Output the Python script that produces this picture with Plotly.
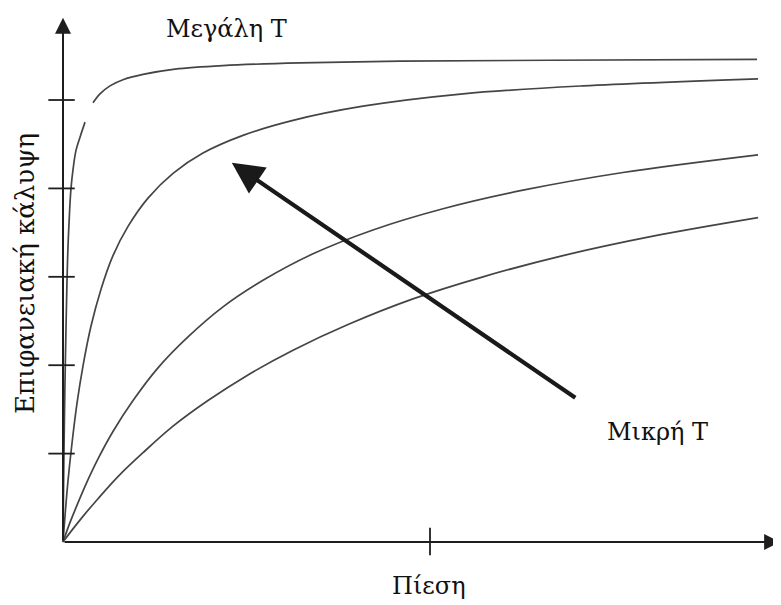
import plotly.graph_objects as go

# ---- data (pressure in arbitrary units, coverage in tick units) ----
curve1_p = [0, 0.07, 0.14, 0.27, 0.41, 0.54, 0.68, 0.89, 1.09, 1.36, 1.77, 2.32, 3.00, None,
            4.09, 5.04, 6.40, 8.17, 10.90, 15.26, 21.80, 32.29, 45.91, 66.35, 94.55]
curve1_t = [0, 0.57, 1.07, 1.81, 2.43, 2.94, 3.34, 3.73, 4.00, 4.21, 4.43, 4.58, 4.75, None,
            4.97, 5.07, 5.16, 5.23, 5.29, 5.35, 5.39, 5.42, 5.44, 5.45, 5.46]

curve2_p = [0, 0.27, 0.68, 1.23, 1.91, 2.72, 3.81, 5.18, 6.81, 8.86, 11.58, 14.99, 19.07,
            24.52, 31.34, 40.87, 54.50, 70.84, 94.69]
curve2_t = [0, 0.29, 0.69, 1.12, 1.57, 1.99, 2.44, 2.86, 3.24, 3.57, 3.89, 4.17, 4.40,
            4.60, 4.77, 4.93, 5.07, 5.16, 5.24]

curve3_p = [0, 0.68, 1.63, 3.00, 4.77, 6.81, 9.54, 12.94, 17.03, 21.80, 27.25, 34.06,
            42.23, 51.77, 62.67, 76.29, 94.69]
curve3_t = [0, 0.16, 0.36, 0.63, 0.94, 1.25, 1.60, 1.97, 2.32, 2.66, 2.96, 3.26,
            3.53, 3.77, 3.98, 4.18, 4.38]

curve4_p = [0, 1.09, 2.72, 4.77, 7.49, 10.90, 14.99, 19.75, 25.20, 31.34, 38.83, 47.68,
            57.22, 68.12, 80.38, 94.69]
curve4_t = [0, 0.12, 0.29, 0.49, 0.74, 1.01, 1.31, 1.60, 1.89, 2.17, 2.46, 2.75,
            3.00, 3.24, 3.46, 3.67]

y_ticks = [1, 2, 3, 4, 5]
x_ticks = [50]

labels = {"x": "Πίεση", "y": "Επιφανειακή κάλυψη", "high": "Μεγάλη Τ", "low": "Μικρή Τ"}

# ---- figure ----
fig = go.Figure()
line_style = dict(color="#454545", width=1.7, shape="spline", smoothing=1.0)
for px_, ty_ in [(curve1_p, curve1_t), (curve2_p, curve2_t), (curve3_p, curve3_t), (curve4_p, curve4_t)]:
    fig.add_trace(go.Scatter(x=px_, y=ty_, mode="lines", line=line_style,
                             connectgaps=False, hoverinfo="skip", showlegend=False))

axis_col = "#1e1e1e"
# axes with arrows
fig.add_annotation(x=97.7, y=0, ax=0, ay=0, xref="x", yref="y", axref="x", ayref="y",
                   text="", showarrow=True, arrowhead=2, arrowsize=1.6, arrowwidth=2, arrowcolor=axis_col)
fig.add_annotation(x=0, y=5.93, ax=0, ay=0, xref="x", yref="y", axref="x", ayref="y",
                   text="", showarrow=True, arrowhead=2, arrowsize=1.6, arrowwidth=2, arrowcolor=axis_col)

# tick marks crossing the axes
for t in y_ticks:
    fig.add_shape(type="line", x0=-2.0, x1=1.6, y0=t, y1=t, xref="x", yref="y",
                  line=dict(color=axis_col, width=1.8))
for t in x_ticks:
    fig.add_shape(type="line", x0=t, x1=t, y0=-0.15, y1=0.16, xref="x", yref="y",
                  line=dict(color=axis_col, width=1.8))

# big temperature arrow
fig.add_annotation(x=23.0, y=4.29, ax=70.0, ay=1.62, xref="x", yref="y", axref="x", ayref="y",
                   text="", showarrow=True, arrowhead=2, arrowsize=1.5, arrowwidth=4.2, arrowcolor="#1a1a1a")

serif = "DejaVu Serif, Liberation Serif, serif"
font = dict(family=serif, size=24, color="#111111")
fig.add_annotation(x=22.3, y=5.80, xref="x", yref="y", text=labels["high"], showarrow=False, font=font)
fig.add_annotation(x=81.0, y=1.25, xref="x", yref="y", text=labels["low"], showarrow=False, font=font)
fig.add_annotation(x=49.9, y=-0.50, xref="x", yref="y", text=labels["x"], showarrow=False, font=font)
fig.add_annotation(x=-5.2, y=3.04, xref="x", yref="y", text=labels["y"], showarrow=False,
                   textangle=-90, font=dict(family=serif, size=26, color="#111111"))

# the page places the figure 8 px from the window's top-left corner
fig.update_xaxes(range=[-7.493, 97.82], visible=False)
fig.update_yaxes(range=[-0.7127, 6.041], visible=False)
fig.update_layout(width=773, height=597, margin=dict(l=0, r=0, t=0, b=0),
                  plot_bgcolor="white", paper_bgcolor="white")

fig.write_html("out.html")
